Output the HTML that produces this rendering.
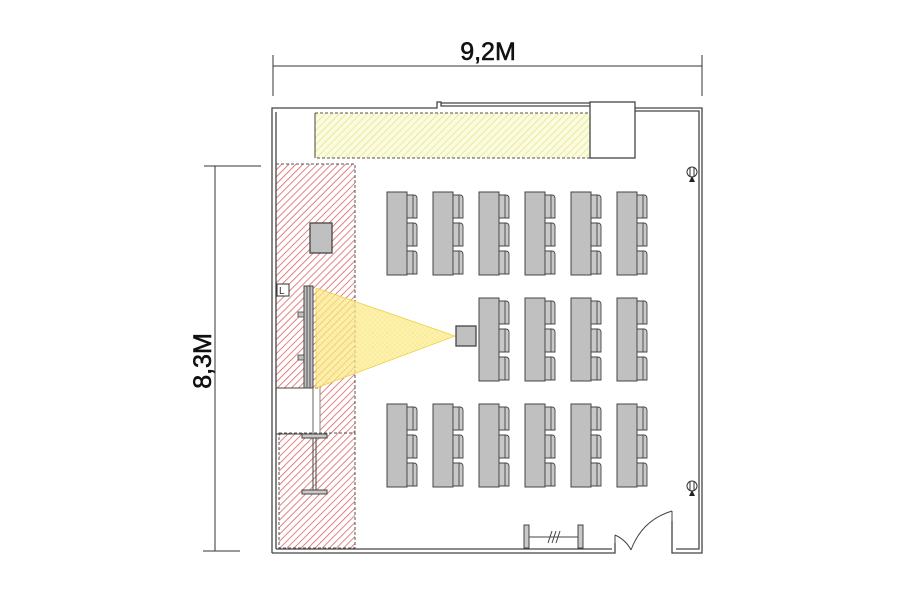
<!DOCTYPE html>
<html><head><meta charset="utf-8"><style>
html,body{margin:0;padding:0;background:#fff;}
svg{display:block;}
</style></head><body>
<svg width="900" height="598" viewBox="0 0 900 598" xmlns="http://www.w3.org/2000/svg">
<defs>
<pattern id="red" patternUnits="userSpaceOnUse" width="5" height="5" patternTransform="rotate(45)">
<rect width="5" height="5" fill="#fff"/><line x1="0" y1="0" x2="0" y2="5" stroke="#d85a5a" stroke-width="1.5"/>
</pattern>
<pattern id="yel" patternUnits="userSpaceOnUse" width="5" height="5" patternTransform="rotate(45)">
<rect width="5" height="5" fill="#fbfbe0"/><line x1="0" y1="0" x2="0" y2="5" stroke="#e2e27a" stroke-width="1.3"/>
</pattern>
<pattern id="beam" patternUnits="userSpaceOnUse" width="5" height="5">
<rect width="5" height="5" fill="#fcec8c" fill-opacity="0.7"/><path d="M0 0L5 5M5 0L0 5" stroke="#f5dc60" stroke-width="0.4" stroke-opacity="0.7"/>
</pattern>
<g id="desk">
<rect x="0" y="0" width="20" height="83" fill="#c0c0c0" stroke="#444" stroke-width="1"/>
<g fill="#c8c8c8" stroke="#444" stroke-width="0.9">
<path d="M20 3h7a3 3 0 0 1 3 3v20h-10z"/><line x1="26" y1="3" x2="26" y2="26"/>
<path d="M20 31h7a3 3 0 0 1 3 3v20h-10z"/><line x1="26" y1="31" x2="26" y2="54"/>
<path d="M20 59h7a3 3 0 0 1 3 3v20h-10z"/><line x1="26" y1="59" x2="26" y2="82"/>
</g>
</g>
</defs>

<g stroke="#333" stroke-width="1" fill="none">
<line x1="273" y1="66" x2="702" y2="66"/>
<line x1="273" y1="55" x2="273" y2="96"/>
<line x1="702" y1="55" x2="702" y2="96"/>
<line x1="204" y1="166" x2="261" y2="166"/>
<line x1="215" y1="166" x2="215" y2="551"/>
<line x1="203" y1="551" x2="240" y2="551"/>
</g>
<text x="488" y="60" font-family="Liberation Sans, sans-serif" font-size="25" text-anchor="middle" fill="#111" stroke="#111" stroke-width="0.6">9,2M</text>
<text transform="translate(211,361) rotate(-90)" font-family="Liberation Sans, sans-serif" font-size="25" text-anchor="middle" fill="#111" stroke="#111" stroke-width="0.6">8,3M</text>

<rect x="315" y="113" width="275" height="45" fill="url(#yel)" stroke="#555" stroke-width="1" stroke-dasharray="3,2"/>
<line x1="315" y1="113" x2="315" y2="158" stroke="#444"/>
<rect x="276" y="164" width="79" height="224" fill="url(#red)" stroke="#555" stroke-width="1" stroke-dasharray="3,2"/>
<rect x="320" y="386" width="35" height="50" fill="url(#red)"/>
<line x1="355" y1="386" x2="355" y2="434" stroke="#555" stroke-dasharray="3,2"/>
<rect x="279" y="433" width="76" height="115" fill="url(#red)" stroke="#555" stroke-width="1" stroke-dasharray="3,2"/>
<line x1="276" y1="434" x2="320" y2="434" stroke="#444"/>
<line x1="276" y1="388" x2="313" y2="388" stroke="#444"/>
<line x1="313" y1="388" x2="313" y2="434" stroke="#666"/>
<line x1="320" y1="388" x2="320" y2="434" stroke="#888"/>

<g stroke="#444" stroke-width="1.3" fill="none">
<path d="M272 553 V108 H437 V102 H441 V106 H590"/>
<path d="M276 549 V112"/>
<path d="M441 103 H590"/>
<rect x="590" y="102" width="45" height="56" fill="#fff"/>
<path d="M635 108 H702 V553 H672 V521"/>
<path d="M635 111 H699 V549 H676"/>
<path d="M272 553 H615 V543"/>
<path d="M276 549 H612"/>
</g>

<g stroke="#444" fill="none" stroke-width="1">
<line x1="615" y1="535" x2="615" y2="553"/>
<path d="M615 535 Q626 540 631 550"/>
<path d="M631 550 Q642 520 672 511"/>
<line x1="672" y1="511" x2="672" y2="553"/>
</g>

<g stroke="#444" stroke-width="1">
<rect x="524" y="525" width="5" height="23" fill="#c8c8c8"/>
<rect x="578" y="525" width="5" height="23" fill="#c8c8c8"/>
<line x1="529" y1="537" x2="578" y2="537"/>
<line x1="548" y1="543" x2="552" y2="531"/><line x1="552" y1="543" x2="556" y2="531"/><line x1="556" y1="543" x2="560" y2="531"/>
</g>

<g stroke="#333" fill="#fff" stroke-width="1">
<circle cx="692" cy="172" r="5"/><line x1="690" y1="167" x2="690" y2="177"/><line x1="694" y1="167" x2="694" y2="177"/>
<circle cx="692" cy="486" r="5"/><line x1="690" y1="481" x2="690" y2="491"/><line x1="694" y1="481" x2="694" y2="491"/>
</g>
<path d="M689 182 L692 176 L695 182 Z" fill="#222"/>
<path d="M689 496 L692 490 L695 496 Z" fill="#222"/>

<polygon points="455,336 316,288 316,388" fill="url(#beam)" stroke="#f0d040" stroke-width="0.8"/>

<rect x="304" y="286" width="9" height="102" fill="#c0c0c0" stroke="#444"/>
<line x1="307" y1="286" x2="307" y2="388" stroke="#555"/>
<line x1="310" y1="286" x2="310" y2="388" stroke="#555"/>
<rect x="298" y="312" width="6" height="5" fill="#c0c0c0" stroke="#444" stroke-width="0.8"/>
<rect x="298" y="355" width="6" height="5" fill="#c0c0c0" stroke="#444" stroke-width="0.8"/>
<rect x="277" y="284" width="12" height="12" fill="#fff" stroke="#333"/>
<text x="279" y="294" font-family="Liberation Sans, sans-serif" font-size="10" fill="#333">L</text>

<g stroke="#444" stroke-width="1" fill="#c8c8c8">
<rect x="302" y="434" width="25" height="4"/>
<rect x="302" y="490" width="25" height="4"/>
<line x1="313" y1="438" x2="313" y2="490"/><line x1="316" y1="438" x2="316" y2="490"/>
</g>

<rect x="310" y="223" width="22" height="30" fill="#c0c0c0" stroke="#444" stroke-width="1.3"/>
<rect x="456" y="326" width="20" height="20" fill="#c0c0c0" stroke="#444" stroke-width="1.3"/>

<use href="#desk" x="387" y="192"/><use href="#desk" x="433" y="192"/><use href="#desk" x="479" y="192"/>
<use href="#desk" x="525" y="192"/><use href="#desk" x="571" y="192"/><use href="#desk" x="617" y="192"/>
<use href="#desk" x="479" y="298"/><use href="#desk" x="525" y="298"/><use href="#desk" x="571" y="298"/><use href="#desk" x="617" y="298"/>
<use href="#desk" x="387" y="404"/><use href="#desk" x="433" y="404"/><use href="#desk" x="479" y="404"/>
<use href="#desk" x="525" y="404"/><use href="#desk" x="571" y="404"/><use href="#desk" x="617" y="404"/>
</svg>
</body></html>
